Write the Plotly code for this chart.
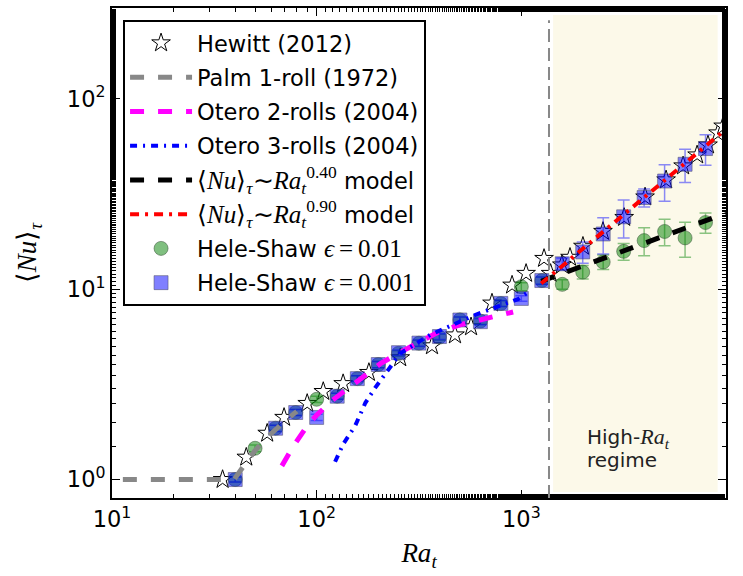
import plotly.graph_objects as go

# ---- Hewitt et al. (2012) ----
hewitt_ra = [34.7, 45.3, 57.3, 69.3, 89.9, 107.7, 134.7, 180, 256, 366, 474, 568, 719, 901,
             1055, 1291, 1390, 1578, 1729, 2000, 2506, 3180, 4023, 5096, 6170, 7224, 8166, 9140, 9680]
hewitt_nu = [1.00, 1.31, 1.75, 2.12, 2.51, 2.90, 3.19, 3.65, 4.36, 5.04, 5.75, 6.34, 8.45, 10.5,
             12.1, 14.5, 12.1, 13.4, 14.7, 16.8, 20.1, 23.8, 30.5, 37.5, 44.4, 50.7, 57.2, 66.2, 71.9]

# ---- Palm (1972), one roll ----
palm_ra = [11.3, 39.5, 45, 50, 57, 63, 70, 80]
palm_nu = [1.0, 1.0, 1.22, 1.42, 1.66, 1.85, 2.03, 2.28]

# ---- Otero et al. (2004), two and three rolls ----
otero2_ra = [67.6, 77, 90, 100, 120, 140, 160, 204, 250, 300, 387, 500, 650, 912]
otero2_nu = [1.18, 1.50, 1.92, 2.18, 2.62, 2.97, 3.35, 4.05, 4.60, 5.10, 5.90, 6.50, 7.00, 7.59]

otero3_ra = [123, 135, 154, 173, 193, 256, 358, 594, 964, 1097]
otero3_nu = [1.24, 1.54, 1.91, 2.53, 3.03, 4.60, 5.75, 7.32, 8.87, 9.77]

# ---- power-law models in the high-Ra regime ----
model040_ra = [1250, 10000]
model040_nu = [11.0, 25.1]
model090_ra = [1250, 10000]
model090_nu = [10.7, 69.4]

# ---- Hele-Shaw simulations ----
hs1_ra = [40, 50, 63, 79, 100, 126, 158, 200, 251, 316, 398, 501, 631, 794, 1000, 1259,
          1585, 1995, 2512, 3162, 3981, 5012, 6310, 7943]
hs1_nu = [1.0, 1.46, 1.86, 2.25, 2.64, 2.74, 3.39, 4.02, 4.6, 5.2, 5.6, 6.9, 6.8, 8.4, 10.3, 11.1,
          10.6, 12.3, 13.9, 15.8, 18.0, 20.1, 18.6, 22.4]
hs1_err = [0.03, 0.06, 0.07, 0.08, 0.1, 0.1, 0.12, 0.15, 0.15, 0.2, 0.2, 0.25, 0.25, 0.3, 0.5, 0.5,
           0.6, 1.0, 1.2, 1.6, 3.0, 3.2, 3.9, 2.7]

hs2_ra = [40, 63, 79, 100, 126, 158, 200, 251, 316, 398, 501, 631, 794, 1000, 1259,
          1585, 1995, 2512, 3162, 3981, 5012, 6310, 7943]
hs2_nu = [1.0, 1.86, 2.25, 2.12, 2.74, 3.39, 4.02, 4.64, 5.21, 5.64, 6.89, 6.75, 8.42, 8.94, 11.1,
          13.6, 15.7, 19.5, 24.0, 30.3, 37.0, 45.3, 54.8]
hs2_err = [0.03, 0.07, 0.08, 0.08, 0.1, 0.12, 0.15, 0.15, 0.2, 0.2, 0.25, 0.25, 0.3, 0.3, 0.5,
           1.0, 2.0, 4.2, 5.4, 3.3, 8.0, 9.0, 10.0]

# regime boundary and shaded high-Ra band
ra_transition = 1365
band_ra = [1430, 9100]
band_nu = [0.86, 276]

SANS = "DejaVu Sans"
SERIF = "Liberation Serif"
FS = 22.5
MATH_STYLE = f"font-family:{SERIF};font-size:25px"
THIN = "\u2009"


def model_label(p):
    return (f'<span style="{MATH_STYLE}">⟨<i>Nu</i>⟩<sub><i>τ</i></sub>∼<i>Ra</i>'
            f'<sub><i>t</i></sub><sup>{p}</sup></span> model')


def eps_label(v):
    return "Hele-Shaw " + f'<span style="{MATH_STYLE}"><i>ϵ</i>{THIN}={THIN}{v}</span>'


fig = go.Figure()

fig.add_trace(go.Scatter(
    x=hewitt_ra, y=hewitt_nu, mode="markers", name="Hewitt (2012)", legendrank=1, legendgroup="g1",
    marker=dict(symbol="star", size=14, color="white", line=dict(color="black", width=1))))

fig.add_trace(go.Scatter(
    x=hs1_ra, y=hs1_nu, mode="markers", name=eps_label("0.01"), legendrank=7, legendgroup="g7",
    error_y=dict(type="data", array=hs1_err, color="rgba(0,128,0,0.45)", thickness=1.5, width=6),
    marker=dict(symbol="circle", size=14, color="rgba(0,128,0,0.5)",
                line=dict(color="rgba(60,90,60,0.55)", width=1))))

fig.add_trace(go.Scatter(
    x=hs2_ra, y=hs2_nu, mode="markers", name=eps_label("0.001"), legendrank=8, legendgroup="g8",
    error_y=dict(type="data", array=hs2_err, color="rgba(0,0,255,0.45)", thickness=1.5, width=6),
    marker=dict(symbol="square", size=14, color="rgba(0,0,255,0.5)",
                line=dict(color="rgba(80,80,110,0.55)", width=1))))

fig.add_trace(go.Scatter(
    x=palm_ra, y=palm_nu, mode="lines", name="Palm 1-roll (1972)", legendrank=2, legendgroup="g2",
    line=dict(color="#888888", width=5, dash="14px,14px")))

fig.add_trace(go.Scatter(
    x=otero2_ra, y=otero2_nu, mode="lines", name="Otero 2-rolls (2004)", legendrank=3, legendgroup="g3",
    line=dict(color="magenta", width=5, dash="14px,14px")))

fig.add_trace(go.Scatter(
    x=otero3_ra, y=otero3_nu, mode="lines", name="Otero 3-rolls (2004)", legendrank=4, legendgroup="g4",
    line=dict(color="blue", width=4, dash="7px,6px,2px,6px")))

fig.add_trace(go.Scatter(
    x=model040_ra, y=model040_nu, mode="lines", name=model_label("0.40"), legendrank=5, legendgroup="g5",
    line=dict(color="black", width=5, dash="14px,14px")))

fig.add_trace(go.Scatter(
    x=model090_ra, y=model090_nu, mode="lines", name=model_label("0.90"), legendrank=6, legendgroup="g6",
    line=dict(color="red", width=4, dash="9px,6px,3px,6px")))

# shaded high-Ra band (drawn below the data)
fig.add_shape(type="rect", xref="x", yref="y", x0=band_ra[0], x1=band_ra[1],
              y0=band_nu[0], y1=band_nu[1], fillcolor="rgb(252,249,233)",
              line=dict(width=0), layer="below")
fig.add_shape(type="line", xref="x", yref="paper", x0=ra_transition, x1=ra_transition,
              y0=0, y1=0.975, line=dict(color="#888888", width=2, dash="13px,6px"))

fig.add_annotation(xref="paper", yref="paper", x=0.77, y=0.1225, xanchor="left", yanchor="middle",
                   text="High-" + f'<span style="font-family:{SERIF};font-size:22px"><i>Ra</i>'
                                  f'<sub><i>t</i></sub></span>',
                   showarrow=False, font=dict(family=SANS, size=20, color="#222"))
fig.add_annotation(xref="paper", yref="paper", x=0.77, y=0.078, xanchor="left", yanchor="middle",
                   text="regime", showarrow=False, font=dict(family=SANS, size=20, color="#222"))

axis_common = dict(
    type="log", showgrid=False, zeroline=False, showline=True, linecolor="black", linewidth=2,
    mirror="ticks", ticks="inside", ticklen=8, tickwidth=1, tickcolor="black",
    minor=dict(ticks="inside", ticklen=4, tickwidth=1, tickcolor="black", showgrid=False),
    tickfont=dict(family=SANS, size=FS, color="black"),
)

fig.update_xaxes(**axis_common, range=[1, 4],
                 tickvals=[10, 100, 1000, 10000],
                 ticktext=["10<sup>1</sup>", "10<sup>2</sup>", "10<sup>3</sup>", "10<sup>4</sup>"],
                 title=dict(text="<i>Ra</i><sub><i>t</i></sub>", font=dict(family=SERIF, size=27),
                            standoff=12))
fig.update_yaxes(**axis_common, range=[-0.0969, 2.4771],
                 tickvals=[1, 10, 100],
                 ticktext=["10<sup>0</sup>", "10<sup>1</sup>", "10<sup>2</sup>"],
                 title=dict(text="⟨<i>Nu</i>⟩<sub><i>τ</i></sub>", font=dict(family=SERIF, size=27),
                            standoff=22))

fig.update_layout(
    width=743, height=576,
    margin=dict(l=112, r=17, t=6, b=78),
    paper_bgcolor="white", plot_bgcolor="white",
    font=dict(family=SANS, size=FS, color="black"),
    legend=dict(x=0.018, y=0.976, xanchor="left", yanchor="top",
                bgcolor="white", bordercolor="black", borderwidth=2,
                font=dict(family=SANS, size=FS, color="black"),
                itemwidth=62, traceorder="grouped", tracegroupgap=2),
    showlegend=True,
)

fig.write_html("out.html")
